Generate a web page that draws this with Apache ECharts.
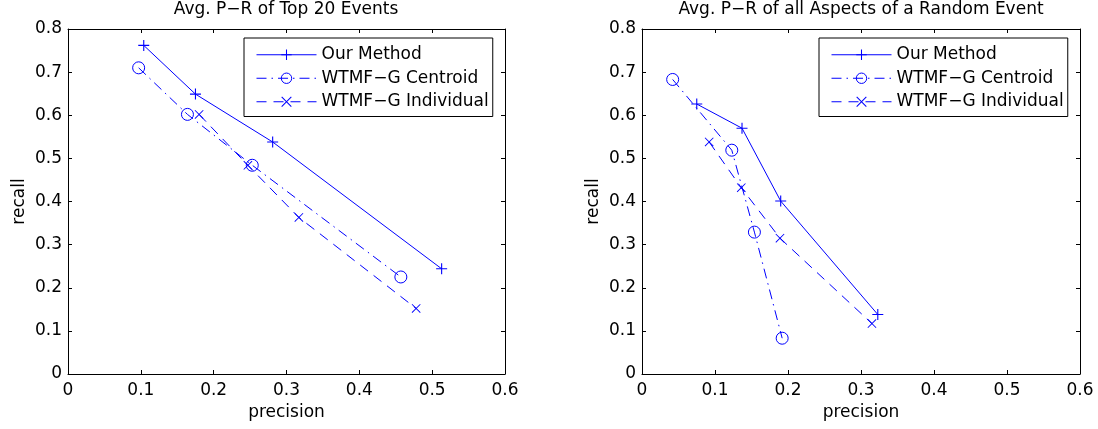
<!DOCTYPE html>
<html>
<head>
<meta charset="utf-8">
<script src="https://cdn.jsdelivr.net/npm/echarts@6.0.0/dist/echarts.min.js"></script>
<style>
html,body{margin:0;padding:0;background:#fff;}
#chart{width:1098px;height:429px;}
</style>
</head>
<body>
<div id="chart"></div>
<script>
// ---- data ----
const seriesNames = ['Our Method', 'WTMF\u2212G Centroid', 'WTMF\u2212G Individual'];
const titles = ['Avg. P\u2212R of Top 20 Events', 'Avg. P\u2212R of all Aspects of a Random Event'];
const xTickLabels = ['0', '0.1', '0.2', '0.3', '0.4', '0.5', '0.6'];
const yTickLabels = ['0', '0.1', '0.2', '0.3', '0.4', '0.5', '0.6', '0.7', '0.8'];

const leftOurX = [0.104, 0.175, 0.281, 0.513];
const leftOurY = [0.762, 0.649, 0.538, 0.244];
const leftCenX = [0.097, 0.164, 0.253, 0.457];
const leftCenY = [0.710, 0.602, 0.484, 0.225];
const leftIndX = [0.180, 0.247, 0.317, 0.478];
const leftIndY = [0.602, 0.484, 0.363, 0.152];

const rightOurX = [0.075, 0.137, 0.190, 0.323];
const rightOurY = [0.626, 0.570, 0.401, 0.138];
const rightCenX = [0.042, 0.123, 0.154, 0.192];
const rightCenY = [0.683, 0.519, 0.329, 0.083];
const rightIndX = [0.092, 0.136, 0.189, 0.315];
const rightIndY = [0.538, 0.432, 0.315, 0.117];

// ---- styling ----
const BLUE = '#0000ff';
const FONT = 'DejaVu Sans';
const FS = 17;
const plusPath = 'path://M0,4.5L10,4.5L10,5.5L0,5.5Z M4.5,0L5.5,0L5.5,10L4.5,10Z';
const crossPath = 'path://M0,0.7L0.7,0L10,9.3L9.3,10Z M9.3,0L10,0.7L0.7,10L0,9.3Z';

function zip(xs, ys) { return xs.map((x, i) => [x, ys[i]]); }

const grids = [
  { left: 68, top: 29, width: 437, height: 345 },
  { left: 642, top: 29, width: 438, height: 345 }
];

const xAxes = [], yAxes = [];
grids.forEach((g, gi) => {
  const common = {
    gridIndex: gi, type: 'value', splitLine: { show: false },
    axisLine: { show: true, onZero: false, lineStyle: { color: '#000', width: 1 } },
    axisTick: { show: true, inside: true, length: 4, lineStyle: { color: '#000' } }
  };
  xAxes.push(Object.assign({}, common, {
    position: 'bottom', min: 0, max: 0.6, interval: 0.1,
    name: 'precision', nameLocation: 'middle', nameGap: 30,
    nameTextStyle: { fontFamily: FONT, fontSize: FS, color: '#000' },
    axisLabel: { show: true, margin: 8, fontFamily: FONT, fontSize: FS, color: '#000',
      formatter: (v, i) => xTickLabels[i] }
  }));
  xAxes.push(Object.assign({}, common, {
    position: 'top', min: 0, max: 0.6, interval: 0.1, axisLabel: { show: false }
  }));
  yAxes.push(Object.assign({}, common, {
    position: 'left', min: 0, max: 0.8, interval: 0.1,
    name: 'recall', nameLocation: 'middle', nameGap: 40,
    nameTextStyle: { fontFamily: FONT, fontSize: FS, color: '#000' },
    axisLabel: { show: true, margin: 6, fontFamily: FONT, fontSize: FS, color: '#000',
      formatter: (v, i) => yTickLabels[i] }
  }));
  yAxes.push(Object.assign({}, common, {
    position: 'right', min: 0, max: 0.8, interval: 0.1, axisLabel: { show: false }
  }));
});

function mkSeries(gi, kind, data) {
  const base = {
    name: seriesNames[kind], type: 'line', xAxisIndex: gi * 2, yAxisIndex: gi * 2,
    data: data, animation: false, z: 3,
    lineStyle: { color: BLUE, width: 1 }
  };
  if (kind === 0) {
    base.symbol = plusPath; base.symbolSize = 11;
    base.itemStyle = { color: BLUE, borderWidth: 0 };
    base.lineStyle.type = 'solid';
  } else if (kind === 1) {
    base.symbol = 'circle'; base.symbolSize = 12;
    base.itemStyle = { color: 'rgba(255,255,255,0)', borderColor: BLUE, borderWidth: 1 };
    base.lineStyle.type = [10, 5, 1.5, 5];
  } else {
    base.symbol = crossPath; base.symbolSize = 9;
    base.itemStyle = { color: BLUE, borderWidth: 0 };
    base.lineStyle.type = [10, 7];
  }
  return base;
}

const series = [
  mkSeries(0, 0, zip(leftOurX, leftOurY)),
  mkSeries(0, 1, zip(leftCenX, leftCenY)),
  mkSeries(0, 2, zip(leftIndX, leftIndY)),
  mkSeries(1, 0, zip(rightOurX, rightOurY)),
  mkSeries(1, 1, zip(rightCenX, rightCenY)),
  mkSeries(1, 2, zip(rightIndX, rightIndY))
];

function mkLegend(left) {
  return {
    data: seriesNames, orient: 'vertical', left: left, top: 38,
    itemWidth: 60, itemHeight: 13, itemGap: 4,
    padding: [7, 4, 5, 12],
    borderColor: '#000', borderWidth: 1, backgroundColor: '#fff',
    selectedMode: false,
    lineStyle: { width: 1 },
    itemStyle: { borderWidth: 1 },
    textStyle: { fontFamily: FONT, fontSize: FS, color: '#000', lineHeight: 19.5 }
  };
}

const option = {
  backgroundColor: '#fff',
  animation: false,
  title: [
    { text: titles[0], left: 286, top: 1, padding: 0, textAlign: 'center',
      textStyle: { fontFamily: FONT, fontSize: FS, fontWeight: 'normal', color: '#000' } },
    { text: titles[1], left: 861, top: 1, padding: 0, textAlign: 'center',
      textStyle: { fontFamily: FONT, fontSize: FS, fontWeight: 'normal', color: '#000' } }
  ],
  legend: [mkLegend(244), mkLegend(819)],
  grid: grids,
  xAxis: xAxes,
  yAxis: yAxes,
  series: series
};

const chart = echarts.init(document.getElementById('chart'), null, { renderer: 'canvas' });
chart.setOption(option);
</script>
</body>
</html>
